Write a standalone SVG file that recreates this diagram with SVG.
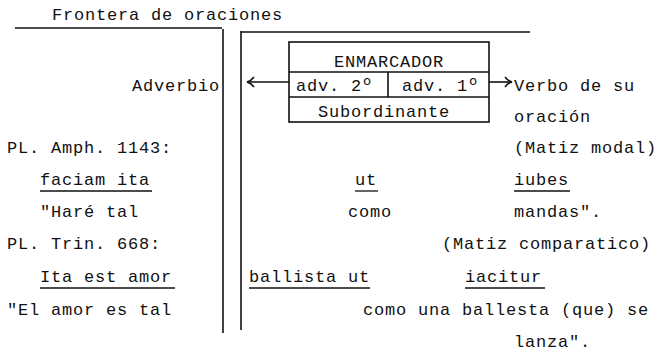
<svg xmlns="http://www.w3.org/2000/svg" width="667" height="358" viewBox="0 0 667 358">
<style>
text{font-family:"Liberation Mono","DejaVu Sans Mono",monospace;font-size:17px;letter-spacing:0.8px;fill:#111}
.ln{stroke:#111;stroke-width:1.6;fill:none}
.ul{stroke:#111;stroke-width:1.3;fill:none}
</style>
<defs>
<marker id="ah" markerWidth="12" markerHeight="12" refX="10" refY="6" orient="auto" markerUnits="userSpaceOnUse">
<path d="M3,1 Q6,5 10,6 Q6,7 3,11" fill="none" stroke="#111" stroke-width="1.6"/>
</marker>
</defs>
<g id="frontera">
<text x="52" y="20">Frontera de oraciones</text>
<line class="ln" x1="15" y1="28" x2="222" y2="28"/>
<line class="ln" x1="223" y1="29" x2="223" y2="333"/>
<line class="ln" x1="241" y1="31" x2="241" y2="330"/>
<line class="ln" x1="241" y1="32" x2="530" y2="32"/>
</g>
<g id="enmarcador">
<rect class="ln" x="289" y="42" width="200" height="80"/>
<line class="ln" x1="289" y1="72" x2="489" y2="72"/>
<line class="ln" x1="289" y1="97" x2="489" y2="97"/>
<line class="ln" x1="388" y1="72" x2="388" y2="97"/>
<text x="389" y="67" text-anchor="middle">ENMARCADOR</text>
<text x="296" y="91">adv. 2º</text>
<text x="402" y="91">adv. 1º</text>
<text x="318" y="117">Subordinante</text>
</g>
<g id="connectors">
<line class="ln" x1="289" y1="82" x2="247" y2="82" marker-end="url(#ah)"/>
<line class="ln" x1="489" y1="82" x2="512" y2="82" marker-end="url(#ah)"/>
</g>
<g id="adverbio"><text x="132" y="91">Adverbio</text></g>
<g id="verbo">
<text x="514" y="91">Verbo de su</text>
<text x="514" y="122">oración</text>
<text x="514" y="153">(Matiz modal)</text>
</g>
<g id="ejemplo1">
<text x="7" y="153">PL. Amph. 1143:</text>
<text x="40" y="185">faciam ita</text>
<line class="ul" x1="40" y1="191" x2="152" y2="191"/>
<text x="40" y="217">"Haré tal</text>
<text x="355" y="185">ut</text>
<line class="ul" x1="355" y1="191" x2="378" y2="191"/>
<text x="348" y="217">como</text>
<text x="514" y="185">iubes</text>
<line class="ul" x1="514" y1="191" x2="570" y2="191"/>
<text x="514" y="217">mandas".</text>
</g>
<g id="ejemplo2">
<text x="442" y="249">(Matiz comparatico)</text>
<text x="7" y="249">PL. Trin. 668:</text>
<text x="40" y="282">Ita est amor</text>
<line class="ul" x1="40" y1="288" x2="175" y2="288"/>
<text x="7" y="315">"El amor es tal</text>
<text x="249" y="282">ballista ut</text>
<line class="ul" x1="249" y1="288" x2="370" y2="288"/>
<text x="465" y="282">iacitur</text>
<line class="ul" x1="465" y1="288" x2="545" y2="288"/>
<text x="363" y="315">como una ballesta (que) se</text>
<text x="514" y="347">lanza".</text>
</g>
</svg>
